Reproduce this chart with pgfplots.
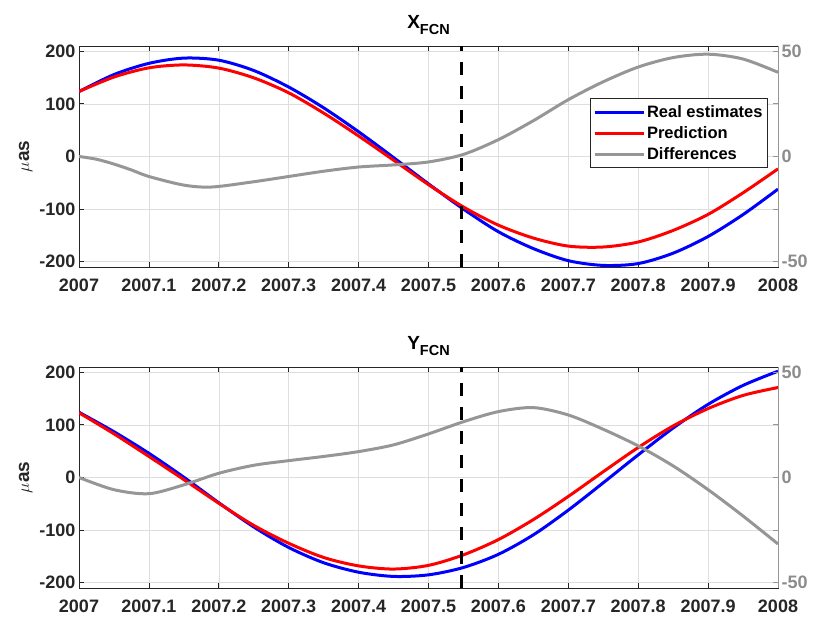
\documentclass[border=0pt]{standalone}
\usepackage{pgfplots}
\pgfplotsset{compat=1.18}
\usepackage{pgfplotstable}
\usepackage{fontspec}
\setmainfont{Liberation Sans}
\definecolor{axc}{RGB}{38,38,38}
\definecolor{grayline}{RGB}{150,150,150}
\definecolor{graytxt}{RGB}{140,140,140}
\definecolor{gridc}{RGB}{222,222,222}

% t = year - 2007 ; blue = real estimates ; red = prediction (left axis, micro-as)
\pgfplotstableread{
t     blue    red
0.00  123.4   123.5
0.05  155.7   151
0.10  177     168.5
0.15  187     174
0.20  183     168
0.25  163.4   149.5
0.30  132     121
0.35  92.5    82.5
0.40  47      39
0.45  -2      -7
0.50  -52     -53.5
0.55  -100    -96
0.60  -143    -130.5
0.65  -175    -155
0.70  -198    -170.3
0.75  -207    -172
0.80  -203.5  -162.5
0.85  -183.7  -140.5
0.90  -152    -110
0.95  -110.4  -69
1.00  -62     -23.5
}\xtab
% differences (right axis)
\pgfplotstableread{
t      diff
0.000  0
0.025  -1.3
0.050  -3.6
0.075  -6.4
0.100  -9.5
0.150  -13.6
0.190  -14.5
0.250  -12
0.300  -9.5
0.350  -7
0.400  -5
0.450  -4
0.500  -2.6
0.550  1
0.600  8
0.650  17
0.700  27
0.750  35.5
0.800  42.5
0.850  47
0.900  48.6
0.950  46.3
1.000  40
}\xdtab
\pgfplotstableread{
t     blue   red
0.00  124    123
0.05  87     83
0.10  46     40
0.15  0.5    -4
0.20  -48    -49
0.25  -94    -91
0.30  -133   -125
0.35  -162   -152
0.40  -180   -168
0.45  -188   -174
0.50  -185   -167
0.55  -171   -147
0.60  -146   -118
0.65  -109   -80
0.70  -62    -36
0.75  -10    11
0.80  43     57
0.85  94     98
0.90  139    131
0.95  175    156
1.00  202    171
}\ytab
\pgfplotstableread{
t     diff
0.00  0
0.05  -5.8
0.10  -7.7
0.15  -3.5
0.20  2
0.25  5.8
0.30  8
0.35  10
0.40  12.3
0.45  15.5
0.50  20.7
0.55  26.5
0.60  31.3
0.65  33.2
0.70  29.7
0.75  22.9
0.80  15
0.85  5.5
0.90  -5.8
0.95  -18.3
1.00  -31.6
}\ydtab

\pgfplotsset{
  leftax/.style={
    scale only axis, width=699pt, height=221pt,
    xmin=0, xmax=1, ymin=-210, ymax=210,
    xtick={0,0.1,0.2,0.3,0.4,0.5,0.6,0.7,0.8,0.9,1},
    xticklabels={2007,2007.1,2007.2,2007.3,2007.4,2007.5,2007.6,2007.7,2007.8,2007.9,2008},
    ytick={-200,-100,0,100,200},
    yticklabels={-200,-100,0,100,200},
    xtick pos=both, ytick pos=left, xticklabel pos=lower,
    tick align=inside, major tick length=5pt,
    grid=major, major grid style={gridc, line width=0.6pt},
    axis line style={axc, line width=0.8pt},
    every tick/.style={axc, line width=0.8pt},
    tick label style={font=\bfseries\fontsize{18}{18}\selectfont, text=axc},
    xticklabel style={yshift=-8pt},
    ylabel={$\mu$\textbf{as}},
    ylabel style={font=\fontsize{19}{19}\selectfont, text=axc},
    title style={at={(0.5,1)}, anchor=south, yshift=2pt, font=\bfseries\fontsize{19}{19}\selectfont, text=black},
  },
  rightax/.style={
    scale only axis, width=699pt, height=221pt,
    xmin=0, xmax=1, ymin=-52.5, ymax=52.5,
    axis x line=none, axis y line*=right,
    ytick={-50,-25,0,25,50},
    yticklabels={-50,,0,,50},
    tick align=inside, major tick length=5pt,
    axis line style={grayline, line width=0.8pt},
    every tick/.style={grayline, line width=0.8pt},
    tick label style={font=\bfseries\fontsize{18}{18}\selectfont, text=graytxt},
  },
}

\begin{document}
\begin{tikzpicture}
\path[use as bounding box] (0pt,0pt) rectangle (813pt,617pt);

% ---------- top panel ----------
\begin{axis}[leftax, at={(79pt,350pt)}, anchor=south west,
  title={X\raisebox{-0.55ex}{\fontsize{14.5}{14.5}\selectfont FCN}}]
\addplot[blue, no marks, smooth, line width=3pt] table[x=t, y=blue] {\xtab};
\addplot[red, no marks, smooth, line width=3pt] table[x=t, y=red] {\xtab};
\addplot[black, no marks, sharp plot, line width=3pt, dash pattern=on 13pt off 11pt] coordinates {(0.5465,-210) (0.5465,210)};
\end{axis}
\begin{axis}[rightax, at={(79pt,350pt)}, anchor=south west,
  legend style={at={(1,1)}, anchor=north east, xshift=-10pt, yshift=-52pt,
    draw=axc, line width=0.8pt, fill=white,
    font=\bfseries\fontsize{16.5}{16.5}\selectfont, text=black,
    inner xsep=3pt, inner ysep=5pt, row sep=3.5pt},
  legend cell align=left,
  legend image code/.code={\draw[#1, line width=3pt] (0pt,0pt) -- (49pt,0pt);}]
\addlegendimage{blue, line width=3pt}
\addlegendentry{Real estimates}
\addlegendimage{red, line width=3pt}
\addlegendentry{Prediction}
\addplot[grayline, no marks, smooth, line width=3pt] table[x=t, y=diff] {\xdtab};
\addlegendentry{Differences}
\end{axis}

% ---------- bottom panel ----------
\begin{axis}[leftax, at={(79pt,29pt)}, anchor=south west,
  title={Y\raisebox{-0.55ex}{\fontsize{14.5}{14.5}\selectfont FCN}}]
\addplot[blue, no marks, smooth, line width=3pt] table[x=t, y=blue] {\ytab};
\addplot[red, no marks, smooth, line width=3pt] table[x=t, y=red] {\ytab};
\addplot[black, no marks, sharp plot, line width=3pt, dash pattern=on 13pt off 11pt] coordinates {(0.5465,-210) (0.5465,210)};
\end{axis}
\begin{axis}[rightax, at={(79pt,29pt)}, anchor=south west]
\addplot[grayline, no marks, smooth, line width=3pt] table[x=t, y=diff] {\ydtab};
\end{axis}
\end{tikzpicture}
\end{document}
